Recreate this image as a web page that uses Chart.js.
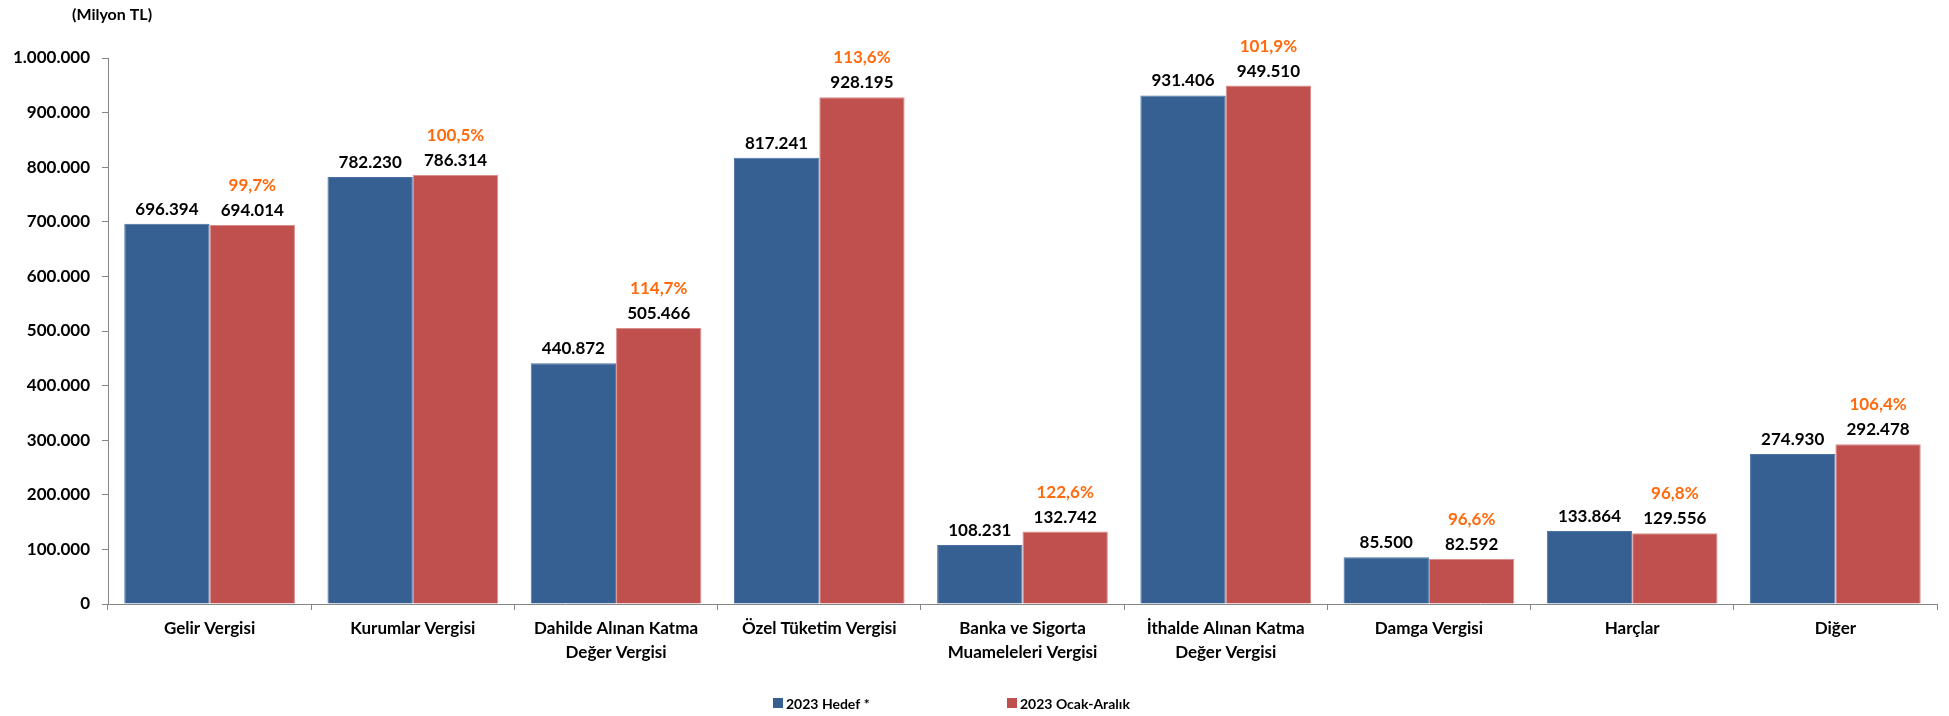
<!DOCTYPE html>
<html>
<head>
<meta charset="utf-8">
<script src="https://cdn.jsdelivr.net/npm/chart.js@4/dist/chart.umd.min.js"></script>
<style>
  html, body { margin: 0; padding: 0; background: #fff; }
  #wrap { width: 1949px; height: 716px; position: relative; }
</style>
</head>
<body>
<div id="wrap"><canvas id="myChart"></canvas></div>
<script>
"use strict";

// kategoriler
const categories = [
  "Gelir Vergisi",
  "Kurumlar Vergisi",
  ["Dahilde Alınan Katma", "Değer Vergisi"],
  "Özel Tüketim Vergisi",
  ["Banka ve Sigorta", "Muameleleri Vergisi"],
  ["İthalde Alınan Katma", "Değer Vergisi"],
  "Damga Vergisi",
  "Harçlar",
  "Diğer",
];
const seriesNames = ["2023 Hedef *", "2023 Ocak-Aralık"];
const hedef = [696394, 782230, 440872, 817241, 108231, 931406, 85500, 133864, 274930];
const gerceklesme = [694014, 786314, 505466, 928195, 132742, 949510, 82592, 129556, 292478];
const oran = ["99,7%", "100,5%", "114,7%", "113,6%", "122,6%", "101,9%", "96,6%", "96,8%", "106,4%"];
const yTicks = [0, 100000, 200000, 300000, 400000, 500000, 600000, 700000, 800000, 900000, 1000000];

const BLUE = "#376092";
const RED = "#C0504D";
const ORANGE = "#FF6A0D";
const FONT = "Lato, 'Open Sans', sans-serif";

function fmt(n) {
  return String(n).replace(/\B(?=(\d{3})+(?!\d))/g, ".");
}

// degerler + yuzdeler + legend + birim
const labelsPlugin = {
  id: "labels",
  afterDatasetsDraw(chart) {
    const ctx = chart.ctx;
    ctx.save();
    ctx.textAlign = "center";
    ctx.textBaseline = "alphabetic";
    chart.data.datasets.forEach((ds, di) => {
      const meta = chart.getDatasetMeta(di);
      meta.data.forEach((bar, i) => {
        ctx.font = "bold 17px " + FONT;
        ctx.fillStyle = "#000";
        ctx.fillText(fmt(ds.data[i]), bar.x, bar.y - 9);
        if (di === 1) {
          ctx.fillStyle = ORANGE;
          ctx.fillText(oran[i], bar.x, bar.y - 34);
        }
      });
    });
    ctx.restore();
  },
  afterDraw(chart) {
    const ctx = chart.ctx;
    ctx.save();
    ctx.font = "bold 16px " + FONT;
    ctx.fillStyle = "#000";
    ctx.textBaseline = "middle";
    ctx.textAlign = "left";
    ctx.fillText("(Milyon TL)", 72, 15);

    // legend
    const items = [
      { x: 773, color: BLUE, text: seriesNames[0] },
      { x: 1007, color: RED, text: seriesNames[1] },
    ];
    ctx.font = "bold 14px " + FONT;
    items.forEach((it) => {
      ctx.fillStyle = it.color;
      ctx.fillRect(it.x, 698, 10, 10);
      ctx.fillStyle = "#000";
      ctx.fillText(it.text, it.x + 13, 704);
    });
    ctx.restore();
  },
};

const ctx = document.getElementById("myChart");

new Chart(ctx, {
  type: "bar",
  data: {
    labels: categories,
    datasets: [
      {
        label: seriesNames[0],
        data: hedef,
        backgroundColor: BLUE,
        borderColor: "#4A72A4",
        borderWidth: 1,
      },
      {
        label: seriesNames[1],
        data: gerceklesme,
        backgroundColor: RED,
        borderColor: "#D98C8A",
        borderWidth: 1,
      },
    ],
  },
  options: {
    responsive: true,
    maintainAspectRatio: false,
    animation: false,
    devicePixelRatio: 1,
    layout: { padding: { left: 0, right: 12, top: 58, bottom: 0 } },
    datasets: {
      bar: { categoryPercentage: 0.84, barPercentage: 1.0 },
    },
    plugins: {
      legend: { display: false },
      tooltip: { enabled: false },
    },
    scales: {
      x: {
        afterFit: (s) => { s.height = 112; },
        grid: {
          offset: true,
          drawOnChartArea: false,
          tickLength: 6,
          color: "#868686",
        },
        border: { color: "#868686", width: 1 },
        ticks: {
          color: "#000",
          padding: 6,
          maxRotation: 0,
          autoSkip: false,
          font: { family: FONT, size: 17, weight: "bold", lineHeight: 1.45 },
        },
      },
      y: {
        min: 0,
        max: 1000000,
        afterFit: (s) => { s.width = 108; },
        afterBuildTicks: (s) => { s.ticks = yTicks.map((v) => ({ value: v })); },
        grid: {
          drawOnChartArea: false,
          tickLength: 6,
          color: "#868686",
        },
        border: { color: "#868686", width: 1 },
        ticks: {
          color: "#000",
          padding: 12,
          font: { family: FONT, size: 17, weight: "bold" },
          callback: (v) => fmt(v),
        },
      },
    },
  },
  plugins: [labelsPlugin],
});
</script>
</body>
</html>
